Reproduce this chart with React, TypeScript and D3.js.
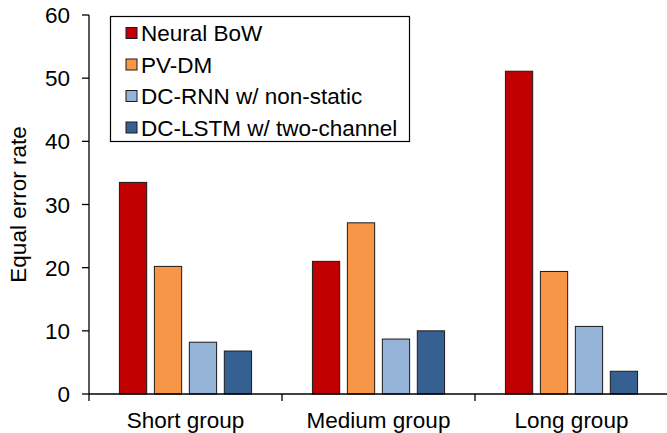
import React from 'react';
import * as d3 from 'd3';

// data
const groups = ['Short group', 'Medium group', 'Long group'];
const methods = ['Neural BoW', 'PV-DM', 'DC-RNN w/ non-static', 'DC-LSTM w/ two-channel'];
const colors = ['#C00000', '#F79646', '#95B3D7', '#366092'];
const neuralBow = [33.5, 21.0, 51.1];
const pvDm = [20.2, 27.1, 19.4];
const dcRnn = [8.2, 8.7, 10.7];
const dcLstm = [6.8, 10.0, 3.6];
const series = [neuralBow, pvDm, dcRnn, dcLstm];
const yTicks = [0, 10, 20, 30, 40, 50, 60];

const W = 667;
const H = 433;
const margin = { top: 15, right: 0, bottom: 39, left: 89 };
const font = '"Liberation Sans", Arial, sans-serif';
const fs = 22.5;

const App: React.FC = () => {
  const x0 = d3.scaleBand<string>()
    .domain(groups)
    .range([margin.left, 668]);

  const x1 = d3.scaleBand<number>()
    .domain(d3.range(methods.length))
    .range([0, x0.bandwidth()])
    .paddingInner(0.22)
    .paddingOuter(0.87);

  const y = d3.scaleLinear()
    .domain([0, 60])
    .range([H - margin.bottom, margin.top]);

  const y0 = y(0);

  // boundaries between groups on x axis
  const xBounds = [...groups.map(g => x0(g)!), x0(groups[groups.length - 1])! + x0.bandwidth()];

  return (
    <svg width={W} height={H} style={{ position: 'absolute', left: 0, top: 0, background: '#fff' }}
      fontFamily={font}>
      {/* bars */}
      {groups.map((g, gi) => (
        <g key={g} transform={`translate(${x0(g)},0)`}>
          {series.map((s, si) => (
            <rect key={si}
              x={x1(si)}
              y={y(s[gi])}
              width={x1.bandwidth()}
              height={y0 - y(s[gi])}
              fill={colors[si]}
              stroke="#1a1a1a"
              strokeWidth={1} />
          ))}
        </g>
      ))}

      {/* y axis */}
      <line x1={margin.left} x2={margin.left} y1={y(60)} y2={y0} stroke="#000" strokeWidth={1.3} />
      {yTicks.map(t => (
        <g key={t}>
          <line x1={margin.left - 7} x2={margin.left} y1={y(t)} y2={y(t)} stroke="#000" strokeWidth={1.3} />
          <text x={70} y={y(t)} dy="0.36em" textAnchor="end" fontSize={fs} fill="#000">{t}</text>
        </g>
      ))}
      <text transform={`translate(26,${(y(0) + y(60)) / 2}) rotate(-90)`} textAnchor="middle"
        fontSize={fs} fill="#000">Equal error rate</text>

      {/* x axis */}
      <line x1={margin.left} x2={668} y1={y0} y2={y0} stroke="#000" strokeWidth={1.3} />
      {xBounds.map((b, i) => (
        <line key={i} x1={b} x2={b} y1={y0} y2={y0 + 7} stroke="#000" strokeWidth={1.3} />
      ))}
      {groups.map(g => (
        <text key={g} x={x0(g)! + x0.bandwidth() / 2} y={428} textAnchor="middle" fontSize={fs} fill="#000">{g}</text>
      ))}

      {/* legend */}
      <rect x={110.5} y={16.5} width={299} height={125} fill="#fff" stroke="#000" strokeWidth={1.2} />
      {methods.map((m, i) => {
        const cy = 33 + i * 31.5;
        return (
          <g key={m}>
            <rect x={126} y={cy - 5.5} width={11} height={11} fill={colors[i]} stroke="#1a1a1a" strokeWidth={1} />
            <text x={141} y={cy} dy="0.36em" fontSize={fs} fill="#000">{m}</text>
          </g>
        );
      })}
    </svg>
  );
};

export default App;
